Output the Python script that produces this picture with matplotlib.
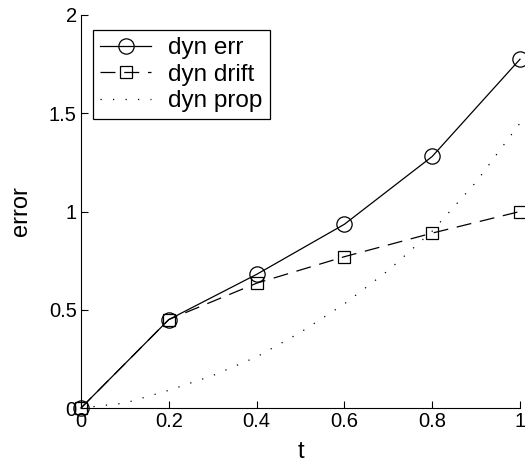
import matplotlib.pyplot as plt

plt.rcParams['font.family'] = ['Liberation Sans', 'DejaVu Sans']

t = [0, 0.2, 0.4, 0.6, 0.8, 1.0]
dyn_err = [0, 0.45, 0.68, 0.935, 1.28, 1.775]
dyn_drift = [0, 0.45, 0.635, 0.77, 0.89, 1.0]

t_prop = [0, 0.1, 0.2, 0.3, 0.4, 0.5, 0.6, 0.7, 0.8, 0.9, 1.0]
dyn_prop = [0, 0.025, 0.09, 0.165, 0.26, 0.385, 0.53, 0.70, 0.90, 1.15, 1.45]

fig = plt.figure(figsize=(5.25, 4.66), dpi=100)
ax = fig.add_axes([81 / 525, 58 / 466, 439 / 525, 393 / 466])

ax.plot(t, dyn_err, '-', color='black', lw=0.9, marker='o', ms=11,
        mfc='none', mec='black', mew=0.9, label='dyn err', clip_on=False)
ax.plot(t, dyn_drift, color='black', lw=0.9, ls=(0, (12, 7)), marker='s',
        ms=9, mfc='none', mec='black', mew=0.9, label='dyn drift', clip_on=False)
ax.plot(t_prop, dyn_prop, color='black', lw=0.9, ls=(0, (1, 9)),
        label='dyn prop')

ax.set_xlim(0, 1)
ax.set_ylim(0, 2)
ax.set_xticks([0, 0.2, 0.4, 0.6, 0.8, 1])
ax.set_xticklabels(['0', '0.2', '0.4', '0.6', '0.8', '1'])
ax.set_yticks([0, 0.5, 1, 1.5, 2])
ax.set_yticklabels(['0', '0.5', '1', '1.5', '2'])

ax.spines['top'].set_visible(False)
ax.spines['right'].set_visible(False)
ax.spines['left'].set_linewidth(0.8)
ax.spines['bottom'].set_linewidth(0.8)
ax.tick_params(direction='in', length=5, width=0.8, labelsize=14.5, pad=3)

ax.set_xlabel('t', fontsize=17, labelpad=7)
ax.set_ylabel('error', fontsize=17, labelpad=12)

leg = ax.legend(loc='upper left', bbox_to_anchor=(93 / 525, 436 / 466),
                bbox_transform=fig.transFigure, fontsize=17.5, fancybox=False,
                edgecolor='black', framealpha=1, borderaxespad=0,
                handlelength=2.1, handletextpad=0.7, labelspacing=0.18,
                borderpad=0.3)
leg.get_frame().set_linewidth(0.9)

plt.savefig('out.png', dpi=100)
